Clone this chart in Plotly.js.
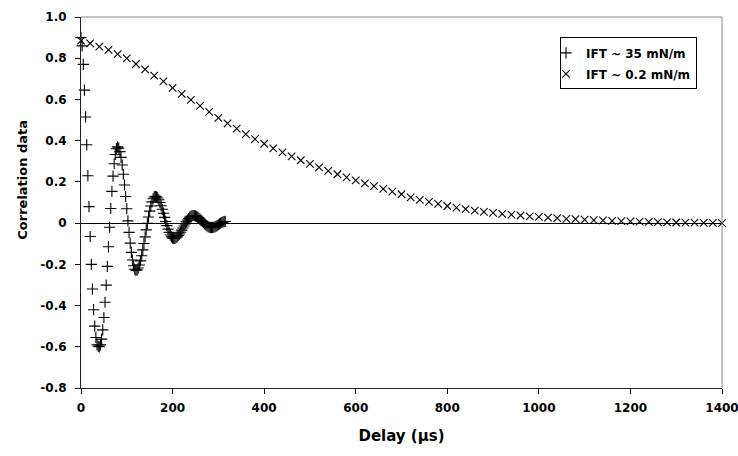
<!DOCTYPE html>
<html>
<head>
<meta charset="utf-8">
<script src="https://cdn.plot.ly/plotly-3.0.1.min.js"></script>
<style>html,body{margin:0;padding:0;background:#fff;}#chart{width:738px;height:456px;}</style>
</head>
<body>
<div id="chart"></div>
<script>
// Series 1: IFT ~ 35 mN/m (delay in µs, correlation)
var ift35Delay = [0,2.5,5,7.5,10,12.5,15,17.5,20,22.5,25,27.5,30,32.5,35,37.5,40,42.5,45,47.5,50,52.5,55,57.5,60,62.5,65,67.5,70,72.5,75,77.5,80,82.5,85,87.5,90,92.5,95,97.5,100,102.5,105,107.5,110,112.5,115,117.5,120,122.5,125,127.5,130,132.5,135,137.5,140,142.5,145,147.5,150,152.5,155,157.5,160,162.5,165,167.5,170,172.5,175,177.5,180,182.5,185,187.5,190,192.5,195,197.5,200,202.5,205,207.5,210,212.5,215,217.5,220,222.5,225,227.5,230,232.5,235,237.5,240,242.5,245,247.5,250,252.5,255,257.5,260,262.5,265,267.5,270,272.5,275,277.5,280,282.5,285,287.5,290,292.5,295,297.5,300,302.5,305,307.5,310,312.5,315];
var ift35Corr = [0.90,0.86,0.77,0.645,0.515,0.38,0.23,0.08,-0.065,-0.20,-0.32,-0.42,-0.50,-0.555,-0.59,-0.597,
 -0.600,-0.591,-0.563,-0.518,-0.458,-0.384,-0.301,-0.210,-0.115,-0.020,0.071,0.154,0.228,0.288,0.333,0.361,0.370,
 0.364,0.347,0.319,0.282,0.237,0.185,0.129,0.070,0.011,-0.045,-0.097,-0.142,-0.179,-0.207,-0.224,-0.230,
 -0.227,-0.218,-0.203,-0.183,-0.158,-0.130,-0.099,-0.067,-0.033,-0.001,0.030,0.058,0.083,0.103,0.118,0.127,0.130,
 0.128,0.122,0.113,0.100,0.084,0.067,0.048,0.028,0.008,-0.012,-0.029,-0.045,-0.058,-0.067,-0.073,-0.075,
 -0.074,-0.071,-0.067,-0.060,-0.053,-0.044,-0.034,-0.024,-0.014,-0.004,0.006,0.015,0.022,0.029,0.033,0.036,0.037,
 0.036,0.035,0.032,0.028,0.024,0.019,0.013,0.008,0.002,-0.004,-0.009,-0.013,-0.017,-0.020,-0.021,-0.022,
 -0.021,-0.020,-0.018,-0.015,-0.012,-0.008,-0.004,0.000,0.003,0.006,0.007,0.008];

// Series 2: IFT ~ 0.2 mN/m
var ift02Delay = [0,20,40,60,80,100,120,140,160,180,200,220,240,260,280,300,320,340,360,380,400,420,440,460,480,500,520,540,560,580,600,620,640,660,680,700,720,740,760,780,800,820,840,860,880,900,920,940,960,980,1000,1020,1040,1060,1080,1100,1120,1140,1160,1180,1200,1220,1240,1260,1280,1300,1320,1340,1360,1380,1400];
var ift02Corr = [0.885,0.872,0.856,0.840,0.820,0.799,0.772,0.746,0.716,0.688,0.656,0.627,0.598,0.569,0.540,0.511,0.484,0.458,0.432,0.408,0.385,0.363,0.343,0.324,0.305,0.287,0.270,0.253,0.237,0.222,0.207,0.193,0.179,0.166,0.153,0.140,0.125,0.113,0.103,0.093,0.083,0.075,0.068,0.061,0.055,0.050,0.045,0.041,0.037,0.033,0.030,0.027,0.024,0.021,0.019,0.017,0.015,0.013,0.011,0.010,0.008,0.007,0.006,0.005,0.004,0.003,0.002,0.002,0.001,0.001,0.000];

var seriesNames = ["IFT ~ 35 mN/m", "IFT ~ 0.2 mN/m"];
var xTickVals = [0,200,400,600,800,1000,1200,1400];
var yTickVals = [-0.8,-0.6,-0.4,-0.2,0,0.2,0.4,0.6,0.8,1.0];
var yTickText = ["-0.8","-0.6","-0.4","-0.2","0","0.2","0.4","0.6","0.8","1.0"];
var xTitle = "Delay (µs)";
var yTitle = "Correlation data";

var FONT = "DejaVu Sans, Liberation Sans, Arial, sans-serif";

var traces = [
  {x: ift35Delay, y: ift35Corr, name: seriesNames[0], legendgroup: "a", type: "scatter", mode: "markers", cliponaxis: false,
   marker: {symbol: "cross-thin", size: 8, color: "#000", line: {color: "#000", width: 1.1}}},
  {x: ift02Delay, y: ift02Corr, name: seriesNames[1], legendgroup: "b", type: "scatter", mode: "markers", cliponaxis: false,
   marker: {symbol: "x-thin", size: 7.5, color: "#000", line: {color: "#000", width: 1.1}}}
];

var layout = {
  width: 738, height: 456,
  margin: {l: 81, r: 16, t: 17, b: 68, pad: 0},
  paper_bgcolor: "#fff", plot_bgcolor: "#fff",
  showlegend: true,
  font: {family: FONT, color: "#000"},
  xaxis: {
    range: [0, 1400], tickvals: xTickVals, ticks: "outside", ticklen: 5, tickcolor: "#000",
    showline: true, linecolor: "#222", linewidth: 1, showgrid: false, zeroline: false,
    tickfont: {family: FONT, size: 12, weight: "bold", color: "#000"},
    ticklabelstandoff: 4, ticklabeloverflow: "allow",
    title: {text: xTitle, font: {family: FONT, size: 15, weight: "bold", color: "#000"}, standoff: 16},
    automargin: false, fixedrange: true
  },
  yaxis: {
    range: [-0.8, 1.0], tickvals: yTickVals, ticktext: yTickText, ticks: "outside", ticklen: 5, tickcolor: "#000",
    showline: true, linecolor: "#222", linewidth: 1, showgrid: false,
    zeroline: true, zerolinecolor: "#000", zerolinewidth: 1,
    tickfont: {family: FONT, size: 12, weight: "bold", color: "#000"},
    ticklabelstandoff: 6, ticklabeloverflow: "allow",
    automargin: false, fixedrange: true
  },
  legend: {
    x: 0.961, xanchor: "right", y: 0.945, yanchor: "top",
    bgcolor: "#fff", bordercolor: "#000", borderwidth: 1,
    font: {family: FONT, size: 12, weight: "bold", color: "#000"},
    traceorder: "grouped", tracegroupgap: 2, indentation: -15
  },
  annotations: [
    {text: yTitle, xref: "paper", yref: "paper", x: -0.0925, y: 0.5606, xanchor: "center", yanchor: "middle",
     textangle: -90, showarrow: false, font: {family: FONT, size: 13, weight: "bold", color: "#000"}}
  ],
  shapes: [
    {type: "line", xref: "paper", yref: "paper", x0: 0, x1: 1, y0: 1, y1: 1, line: {color: "#888", width: 1}},
    {type: "line", xref: "paper", yref: "paper", x0: 1, x1: 1, y0: 0, y1: 1, line: {color: "#888", width: 1}}
  ]
};

Plotly.newPlot("chart", traces, layout, {displayModeBar: false, staticPlot: true});
</script>
</body>
</html>
